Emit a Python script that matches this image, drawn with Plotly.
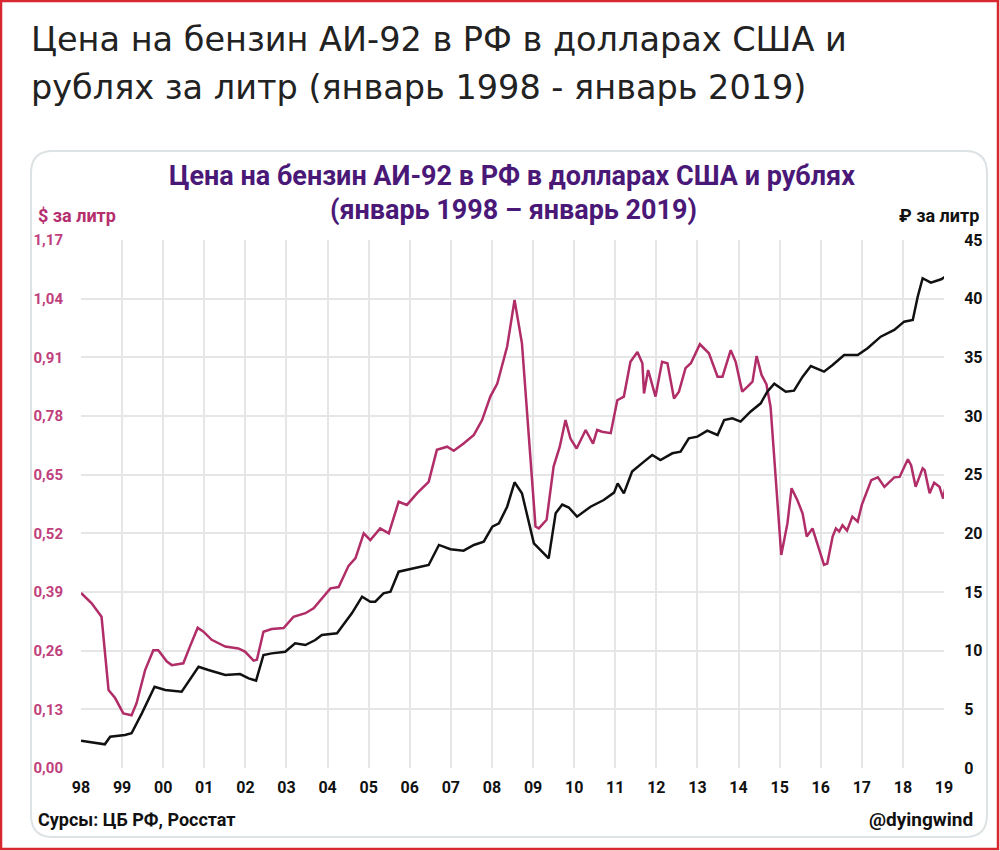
import plotly.graph_objects as go

# price of AI-92 petrol in Russia (decimal years)
usd_years = [1998.00, 1998.26, 1998.50, 1998.67, 1998.83, 1999.03, 1999.23, 1999.35, 1999.56, 1999.76,
             1999.88, 2000.09, 2000.21, 2000.49, 2000.65, 2000.84, 2000.98, 2001.18, 2001.51, 2001.83,
             2001.99, 2002.20, 2002.28, 2002.44, 2002.64, 2002.93, 2003.17, 2003.46, 2003.66, 2003.86,
             2004.07, 2004.27, 2004.51, 2004.68, 2004.88, 2005.04, 2005.28, 2005.49, 2005.73, 2005.93,
             2006.18, 2006.46, 2006.66, 2006.91, 2007.07, 2007.31, 2007.56, 2007.76, 2007.96, 2008.13,
             2008.37, 2008.55, 2008.73, 2009.06, 2009.14, 2009.33, 2009.50, 2009.65, 2009.79, 2009.91,
             2010.06, 2010.28, 2010.46, 2010.56, 2010.68, 2010.89, 2011.05, 2011.21, 2011.37, 2011.54,
             2011.66, 2011.70, 2011.80, 2011.98, 2012.14, 2012.27, 2012.43, 2012.55, 2012.71, 2012.84,
             2013.06, 2013.28, 2013.49, 2013.61, 2013.81, 2013.93, 2014.09, 2014.22, 2014.34, 2014.44,
             2014.56, 2014.68, 2014.78, 2015.04, 2015.19, 2015.29, 2015.43, 2015.56, 2015.66, 2015.80,
             2015.94, 2016.08, 2016.16, 2016.29, 2016.37, 2016.45, 2016.53, 2016.64, 2016.77, 2016.90,
             2017.00, 2017.23, 2017.39, 2017.55, 2017.79, 2017.92, 2018.12, 2018.20, 2018.31, 2018.48,
             2018.53, 2018.65, 2018.76, 2018.89, 2018.98, 2019.06]
usd_price = [0.388, 0.365, 0.335, 0.173, 0.155, 0.121, 0.117, 0.143, 0.217, 0.261,
             0.261, 0.236, 0.228, 0.232, 0.269, 0.311, 0.302, 0.284, 0.269, 0.265,
             0.258, 0.238, 0.240, 0.302, 0.308, 0.310, 0.335, 0.343, 0.354, 0.375,
             0.398, 0.401, 0.448, 0.465, 0.520, 0.505, 0.531, 0.520, 0.590, 0.583,
             0.609, 0.634, 0.705, 0.712, 0.703, 0.719, 0.738, 0.771, 0.823, 0.852,
             0.934, 1.037, 0.941, 0.535, 0.531, 0.550, 0.668, 0.712, 0.771, 0.730,
             0.708, 0.749, 0.719, 0.749, 0.745, 0.742, 0.815, 0.823, 0.900, 0.922,
             0.897, 0.830, 0.882, 0.823, 0.900, 0.897, 0.819, 0.834, 0.886, 0.897,
             0.939, 0.919, 0.867, 0.867, 0.926, 0.900, 0.834, 0.845, 0.856, 0.913,
             0.871, 0.850, 0.800, 0.472, 0.542, 0.620, 0.594, 0.564, 0.513, 0.531,
             0.490, 0.450, 0.453, 0.513, 0.531, 0.524, 0.538, 0.526, 0.557, 0.546,
             0.583, 0.638, 0.644, 0.623, 0.644, 0.645, 0.684, 0.671, 0.623, 0.664,
             0.660, 0.609, 0.632, 0.623, 0.597, 0.634]

rub_years = [1998.00, 1998.34, 1998.58, 1998.71, 1999.07, 1999.23, 1999.48, 1999.79, 2000.05, 2000.45,
             2000.66, 2000.86, 2001.10, 2001.51, 2001.87, 2002.08, 2002.26, 2002.44, 2002.64, 2002.97,
             2003.21, 2003.46, 2003.70, 2003.86, 2004.23, 2004.43, 2004.59, 2004.84, 2005.04, 2005.16,
             2005.36, 2005.53, 2005.73, 2006.10, 2006.46, 2006.71, 2006.99, 2007.31, 2007.56, 2007.80,
             2008.01, 2008.17, 2008.37, 2008.55, 2008.73, 2009.02, 2009.38, 2009.55, 2009.71, 2009.87,
             2010.07, 2010.40, 2010.72, 2010.97, 2011.06, 2011.21, 2011.41, 2011.70, 2011.90, 2012.10,
             2012.39, 2012.59, 2012.79, 2013.00, 2013.24, 2013.49, 2013.65, 2013.85, 2014.05, 2014.29,
             2014.54, 2014.70, 2014.87, 2015.15, 2015.35, 2015.56, 2015.76, 2016.08, 2016.29, 2016.57,
             2016.90, 2017.14, 2017.46, 2017.79, 2018.03, 2018.24, 2018.36, 2018.48, 2018.68, 2018.93,
             2019.05]
rub_price = [2.33, 2.16, 2.02, 2.67, 2.81, 2.96, 4.66, 6.93, 6.65, 6.50,
             7.64, 8.63, 8.35, 7.93, 8.01, 7.64, 7.44, 9.63, 9.77, 9.91,
             10.63, 10.48, 10.91, 11.34, 11.48, 12.40, 13.18, 14.60, 14.17, 14.17,
             14.89, 15.03, 16.73, 17.02, 17.30, 19.01, 18.64, 18.52, 19.01, 19.29,
             20.57, 20.85, 22.27, 24.35, 23.41, 19.15, 17.87, 21.71, 22.45, 22.20,
             21.42, 22.27, 22.84, 23.47, 24.26, 23.41, 25.26, 26.11, 26.68, 26.25,
             26.82, 26.96, 28.10, 28.24, 28.75, 28.38, 29.66, 29.81, 29.52, 30.37,
             31.08, 32.07, 32.76, 32.07, 32.16, 33.35, 34.26, 33.78, 34.35, 35.20,
             35.20, 35.77, 36.76, 37.33, 38.04, 38.18, 40.17, 41.74, 41.36, 41.65,
             41.93]

tick_years = list(range(1998, 2020))
tick_labels = ['%02d' % (y % 100) for y in tick_years]

W, H = 1000, 851
L, R, T, B = 81, 944, 240, 768   # plot area in pixels

PINK = '#b02d68'
PURPLE = '#4a1877'
FONT = 'Roboto'
HEAD_FONT = 'DejaVu Sans'


def px(x):
    return (x - L) / (R - L)


def py(y):
    return (B - y) / (B - T)


def rounded_rect(x0, y0, x1, y1, r):
    # path in paper coords, corners given in pixels
    pts = [
        'M %f,%f' % (px(x0 + r), py(y0)),
        'L %f,%f' % (px(x1 - r), py(y0)),
        'Q %f,%f %f,%f' % (px(x1), py(y0), px(x1), py(y0 + r)),
        'L %f,%f' % (px(x1), py(y1 - r)),
        'Q %f,%f %f,%f' % (px(x1), py(y1), px(x1 - r), py(y1)),
        'L %f,%f' % (px(x0 + r), py(y1)),
        'Q %f,%f %f,%f' % (px(x0), py(y1), px(x0), py(y1 - r)),
        'L %f,%f' % (px(x0), py(y0 + r)),
        'Q %f,%f %f,%f' % (px(x0), py(y0), px(x0 + r), py(y0)),
        'Z',
    ]
    return ' '.join(pts)


fig = go.Figure()
fig.add_trace(go.Scatter(x=usd_years, y=usd_price, mode='lines', name='$ за литр',
                         line=dict(color=PINK, width=2.5), yaxis='y'))
fig.add_trace(go.Scatter(x=rub_years, y=rub_price, mode='lines', name='₽ за литр',
                         line=dict(color='#111111', width=2.5), yaxis='y2'))

fig.update_layout(
    width=W, height=H,
    margin=dict(l=L, r=W - R, t=T, b=H - B),
    paper_bgcolor='white', plot_bgcolor='rgba(0,0,0,0)',
    showlegend=False,
    separators=',.',
    font=dict(family=FONT, color='#111111'),
    xaxis=dict(range=[1998, 2019], tickvals=tick_years, ticktext=tick_labels,
               showgrid=True, gridcolor='#e6e6e6', gridwidth=1.5, zeroline=False,
               showline=False, ticks='outside', ticklen=5, tickcolor='rgba(0,0,0,0)',
               tickfont=dict(family=FONT, size=16, color='#111111', weight='bold')),
    yaxis=dict(range=[0, 1.17], tickvals=[i * 0.13 for i in range(10)], tickformat='.2f',
               showgrid=True, gridcolor='#e6e6e6', gridwidth=1.5, zeroline=False,
               ticks='outside', ticklen=14, tickcolor='rgba(0,0,0,0)',
               tickfont=dict(family=FONT, size=15, color='#c0407c', weight='bold')),
    yaxis2=dict(range=[0, 45], dtick=5, overlaying='y', side='right', anchor='free', position=1,
                showgrid=False, zeroline=False, ticks='outside', ticklen=16,
                tickcolor='rgba(0,0,0,0)',
                tickfont=dict(family=FONT, size=16, color='#111111', weight='bold')),
)

shapes = [
    dict(type='path', xref='paper', yref='paper', path=rounded_rect(31, 151, 987, 837, 22),
         line=dict(color='#dde2e5', width=2), fillcolor='white', layer='below'),
    dict(type='rect', xref='paper', yref='paper',
         x0=px(1), x1=px(998), y0=py(1), y1=py(849),
         line=dict(color='#d6282e', width=2.5), layer='above'),
]
fig.update_layout(shapes=shapes)

annotations = [
    dict(text='Цена на бензин АИ-92 в РФ в долларах США и', x=px(29), y=py(40),
         xanchor='left', yanchor='middle', font=dict(family=HEAD_FONT, size=33.5, color='#222222')),
    dict(text='рублях за литр (январь 1998 - январь 2019)', x=px(29), y=py(87),
         xanchor='left', yanchor='middle', font=dict(family=HEAD_FONT, size=33.5, color='#222222')),
    dict(text='<b>Цена на бензин АИ-92 в РФ в долларах США и рублях</b>', x=px(512), y=py(176),
         xanchor='center', yanchor='middle', font=dict(family=FONT, size=27, color=PURPLE)),
    dict(text='<b>(январь 1998 – январь 2019)</b>', x=px(513), y=py(210),
         xanchor='center', yanchor='middle', font=dict(family=FONT, size=27, color=PURPLE)),
    dict(text='<b>$ за литр</b>', x=px(36), y=py(215), xanchor='left', yanchor='middle',
         font=dict(family=FONT, size=18, color='#b52f6e')),
    dict(text='<b>₽ за литр</b>', x=px(981), y=py(215), xanchor='right', yanchor='middle',
         font=dict(family=FONT, size=18, color='#111111')),
    dict(text='<b>Сурсы: ЦБ РФ, Росстат</b>', x=px(36), y=py(819), xanchor='left', yanchor='middle',
         font=dict(family=FONT, size=18, color='#111111')),
    dict(text='<b>@dyingwind</b>', x=px(975), y=py(819), xanchor='right', yanchor='middle',
         font=dict(family=FONT, size=19, color='#111111')),
]
for a in annotations:
    a.update(xref='paper', yref='paper', showarrow=False)
fig.update_layout(annotations=annotations)

# page body has a default 8px margin, drop it so the figure fills the window
fig.write_html('out.html', config={'displayModeBar': False},
               post_script="document.body.style.margin='0';")
